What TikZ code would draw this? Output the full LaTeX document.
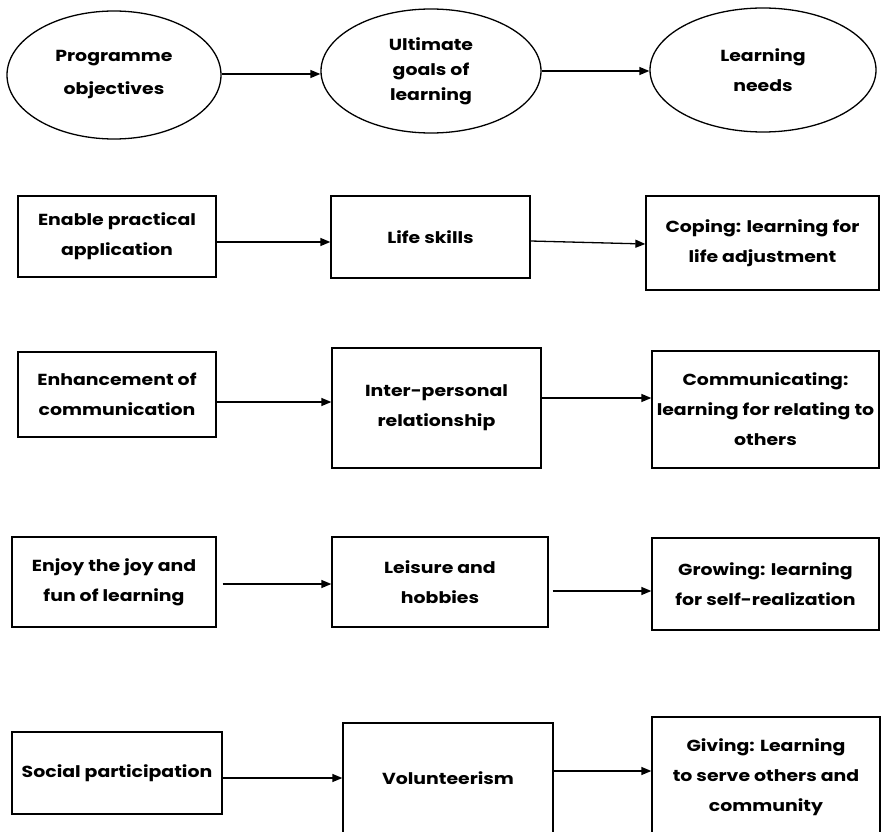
\documentclass[tikz,border=0pt]{standalone}
\usepackage{fontspec}
\setmainfont{Poppins}[FakeStretch=1.18]
\usetikzlibrary{shapes.geometric,arrows.meta}
\begin{document}
\begin{tikzpicture}[x=1pt,y=-1pt,
  lbl/.style={font=\fontsize{16}{30}\selectfont\bfseries, align=center, inner sep=0pt},
  bx/.style={lbl, draw, line width=1.3pt, rectangle},
  ell/.style={lbl, draw, line width=1.3pt, ellipse},
  arr/.style={line width=1.3pt, -{Triangle[length=10pt,width=8pt]}}]
\useasboundingbox (0,0) rectangle (881,832);
\clip (0,0) rectangle (881,832);
% ellipses
\node[ell, minimum width=214pt, minimum height=128pt, font=\fontsize{16}{33}\selectfont\bfseries] (e1) at (114,75) {Programme\\objectives};
\node[ell, minimum width=220pt, minimum height=124pt, font=\fontsize{16}{25}\selectfont\bfseries] (e2) at (431,71) {Ultimate\\goals of\\learning};
\node[ell, minimum width=226pt, minimum height=124pt, font=\fontsize{16}{30}\selectfont\bfseries] (e3) at (763,70) {Learning\\needs};
\draw[arr] (e1.east |- 0,74) -- (e2.west |- 0,74);
\draw[arr] (e2.east |- 0,71) -- (e3.west |- 0,71);
% row 2
\node[bx, minimum width=198pt, minimum height=81pt] (a1) at (117,236.5) {Enable practical\\application};
\node[bx, minimum width=199pt, minimum height=82pt] (a2) at (430.5,237) {Life skills};
\node[bx, minimum width=233pt, minimum height=94pt] (a3) at (762.5,243) {Coping: learning for\\life adjustment};
\draw[arr] (a1.east |- 0,242) -- (a2.west |- 0,242);
\draw[arr] (a2.east |- 0,241) -- (a3.west |- 0,244);
% row 3
\node[bx, minimum width=198pt, minimum height=85pt] (b1) at (117,394.5) {Enhancement of\\communication};
\node[bx, minimum width=209pt, minimum height=120pt] (b2) at (436.5,408) {Inter-personal\\relationship};
\node[bx, minimum width=227pt, minimum height=117pt] (b3) at (765.5,409.5) {Communicating:\\learning for relating to\\others};
\draw[arr] (b1.east |- 0,402) -- (b2.west |- 0,402);
\draw[arr] (b2.east |- 0,398) -- (b3.west |- 0,398);
% row 4
\node[bx, minimum width=204pt, minimum height=90pt] (c1) at (114,582) {Enjoy the joy and\\fun of learning};
\node[bx, minimum width=216pt, minimum height=90pt] (c2) at (440,582) {Leisure and\\hobbies};
\node[bx, minimum width=227pt, minimum height=92pt] (c3) at (765.5,584) {Growing: learning\\for self-realization};
\draw[arr] ([xshift=6pt]c1.east |- 0,584) -- (c2.west |- 0,584);
\draw[arr] ([xshift=4pt]c2.east |- 0,591) -- (c3.west |- 0,591);
% row 5
\node[bx, minimum width=210pt, minimum height=82pt] (d1) at (117,773) {Social participation};
\node[bx, minimum width=210pt, minimum height=110pt] (d2) at (448,778) {Volunteerism};
\node[bx, minimum width=228pt, minimum height=120pt] (d3) at (766,777) {Giving: Learning\\to serve others and\\community};
\draw[arr] (d1.east |- 0,778) -- (d2.west |- 0,778);
\draw[arr] (d2.east |- 0,771) -- (d3.west |- 0,771);
\end{tikzpicture}
\end{document}
